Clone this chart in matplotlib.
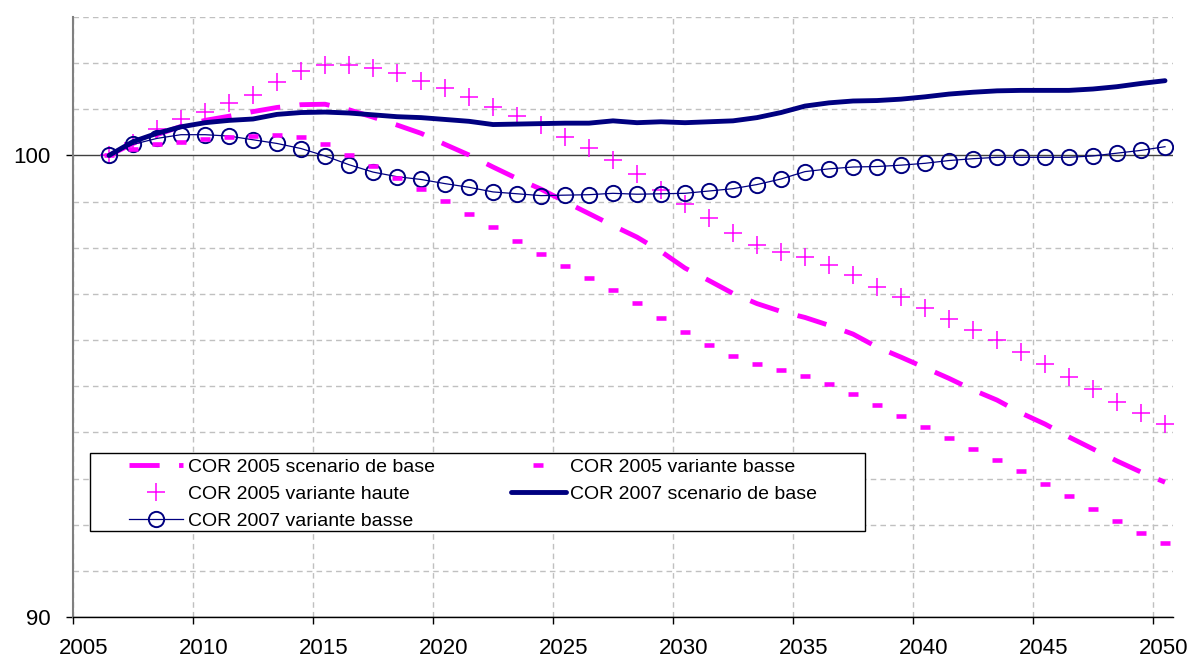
import matplotlib
matplotlib.use("Agg")
import matplotlib.pyplot as plt
import matplotlib.transforms as mtransforms
from matplotlib.patches import Rectangle
from matplotlib.ticker import MultipleLocator
import numpy as np

plt.rcParams["font.family"] = ["Liberation Sans", "DejaVu Sans"]

years = np.arange(2006, 2051)

# COR 2005 scenario de base
cor2005_base = [100.0, 100.26, 100.45, 100.63, 100.76, 100.85, 100.95, 101.04, 101.10, 101.11,
                100.99, 100.83, 100.66, 100.48, 100.24, 100.01, 99.75, 99.50, 99.27, 99.00,
                98.74, 98.48, 98.23, 97.92, 97.56, 97.29, 97.01, 96.79, 96.62, 96.49,
                96.32, 96.13, 95.85, 95.63, 95.40, 95.17, 94.92, 94.70, 94.42, 94.18,
                93.90, 93.64, 93.38, 93.14, 92.92]
# COR 2005 variante basse
cor2005_basse = [100.0, 100.15, 100.24, 100.29, 100.36, 100.40, 100.43, 100.45, 100.40, 100.24,
                 100.02, 99.77, 99.52, 99.27, 99.01, 98.74, 98.46, 98.15, 97.87, 97.60,
                 97.35, 97.09, 96.80, 96.48, 96.18, 95.89, 95.66, 95.48, 95.35, 95.22,
                 95.04, 94.83, 94.60, 94.36, 94.11, 93.88, 93.64, 93.41, 93.17, 92.89,
                 92.62, 92.34, 92.08, 91.83, 91.60]
# COR 2005 variante haute
cor2005_haute = [100.0, 100.28, 100.58, 100.78, 100.95, 101.13, 101.32, 101.59, 101.84, 101.97,
                 101.97, 101.90, 101.78, 101.62, 101.46, 101.26, 101.05, 100.85, 100.67, 100.41,
                 100.16, 99.91, 99.59, 99.26, 98.94, 98.64, 98.32, 98.07, 97.91, 97.79,
                 97.62, 97.41, 97.16, 96.93, 96.69, 96.45, 96.21, 96.00, 95.74, 95.48,
                 95.20, 94.93, 94.66, 94.42, 94.19]
# COR 2007 scenario de base
cor2007_base = [100.0, 100.30, 100.48, 100.62, 100.71, 100.76, 100.79, 100.89, 100.93, 100.94,
                100.92, 100.88, 100.84, 100.82, 100.78, 100.74, 100.67, 100.68, 100.69, 100.70,
                100.70, 100.75, 100.71, 100.73, 100.71, 100.73, 100.75, 100.82, 100.93, 101.07,
                101.14, 101.18, 101.19, 101.22, 101.27, 101.33, 101.37, 101.40, 101.41, 101.41,
                101.41, 101.44, 101.49, 101.56, 101.62]
# COR 2007 variante basse
cor2007_basse = [100.0, 100.24, 100.37, 100.45, 100.45, 100.42, 100.34, 100.26, 100.15, 99.99,
                 99.80, 99.64, 99.54, 99.48, 99.39, 99.31, 99.21, 99.17, 99.13, 99.14,
                 99.15, 99.18, 99.16, 99.17, 99.18, 99.23, 99.28, 99.37, 99.49, 99.65,
                 99.71, 99.75, 99.76, 99.79, 99.83, 99.89, 99.93, 99.96, 99.96, 99.96,
                 99.96, 99.99, 100.05, 100.11, 100.19]

x_ticks = np.arange(2005, 2051, 5)

magenta = "#FF00FF"
navy = "#000080"

fig = plt.figure(figsize=(11.92, 6.61), dpi=100)
ax = fig.add_axes([73 / 1192, 44 / 661, 1100 / 1192, 600 / 661])

x = years + 0.5  # values are plotted mid-year

ax.plot(x, cor2005_base, color=magenta, lw=3.5, dashes=(6.2, 4.0),
        label="COR 2005 scenario de base", zorder=3)
ax.plot(x, cor2005_haute, ls="none", marker="+", ms=12.5, mew=1.1, color=magenta,
        label="COR 2005 variante haute", zorder=3)
ax.plot(x, cor2007_basse, color=navy, lw=0.9, marker="o", ms=11, mew=1.4,
        mfc="none", mec=navy, label="COR 2007 variante basse", zorder=3)
ax.plot(x, cor2005_basse, ls="none", marker="_", ms=7, mew=3.3, color=magenta,
        label="COR 2005 variante basse", zorder=3)
ax.plot(x, cor2007_base, color=navy, lw=3.5, solid_capstyle="round",
        label="COR 2007 scenario de base", zorder=4)

ax.set_xlim(2005, 2005 + 1100 / 24)
ax.set_ylim(90, 103)
ax.set_xticks(x_ticks)
ax.yaxis.set_major_locator(MultipleLocator(10))
ax.yaxis.set_minor_locator(MultipleLocator(1))

ax.set_axisbelow(True)
ax.yaxis.grid(True, which="major", color="#404040", lw=1, ls="-")
ax.yaxis.grid(True, which="minor", color="#c0c0c0", lw=1, ls=(0, (4, 3)))
ax.xaxis.grid(True, which="major", color="#c0c0c0", lw=1, ls=(0, (4, 3)))

for s in ["top", "right"]:
    ax.spines[s].set_visible(False)
ax.spines["left"].set_color("#808080")
ax.spines["left"].set_linewidth(1.5)
ax.spines["bottom"].set_color("black")
ax.spines["bottom"].set_linewidth(1)

ax.tick_params(axis="both", which="major", direction="out", length=5, width=1,
               labelsize=16, color="black")
ax.tick_params(axis="x", pad=10)
ax.tick_params(axis="y", pad=11)
ax.tick_params(axis="y", which="minor", length=0)

offset = mtransforms.ScaledTranslation(11 / 100, 0, fig.dpi_scale_trans)
for lab in ax.get_xticklabels():
    lab.set_transform(lab.get_transform() + offset)

# legend frame
frame = Rectangle((17 / 1100, 86 / 600), 775 / 1100, 78 / 600, transform=ax.transAxes,
                  facecolor="white", edgecolor="black", lw=1, zorder=5)
ax.add_patch(frame)
leg = ax.legend(loc="upper left", bbox_to_anchor=(56 / 1100, 159 / 600), ncol=2,
                frameon=False, fontsize=14, borderpad=0, borderaxespad=0,
                handlelength=2.8, handletextpad=0.25, columnspacing=3.9,
                labelspacing=0.5, numpoints=1)
leg.set_zorder(6)

fig.savefig("out.png", dpi=100)
